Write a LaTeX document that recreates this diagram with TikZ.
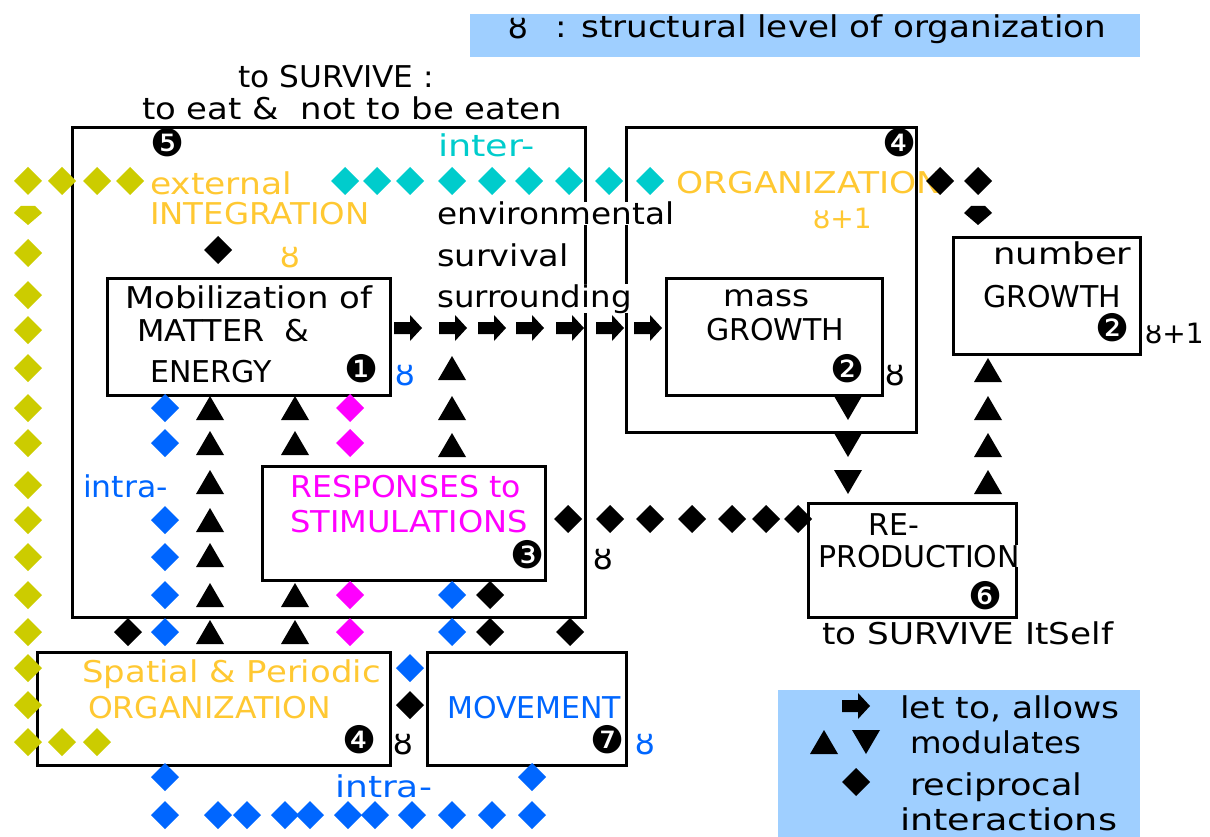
\documentclass[tikz,border=0pt]{standalone}
\usepackage{fontspec}
\setmainfont{DejaVu Sans}
\usetikzlibrary{fit}
\definecolor{dyellow}{HTML}{CCCC00}
\definecolor{orng}{HTML}{FFC832}
\definecolor{dcyan}{HTML}{00CCCC}
\definecolor{dblue}{HTML}{0066FF}
\definecolor{dmag}{HTML}{FF00FF}
\definecolor{legblue}{HTML}{9FCFFF}
\newcommand\xs[2]{\scalebox{#1}[1]{#2}}
\begin{document}
\begin{tikzpicture}[x=1pt, y=-1pt,
    box/.style={draw, line width=3pt, inner sep=0pt},
    txt/.style={font=\fontsize{30}{36}\selectfont, inner sep=0pt, anchor=base west},
    num/.style={font=\fontsize{38}{40}\selectfont, inner sep=0pt},
    lvl/.style={font=\fontsize{32}{36}\selectfont, inner sep=0pt},
    pics/dia/.style={code={\fill[#1] (-14,0) -- (0,-14) -- (14,0) -- (0,14) -- cycle;}},
    pics/dia/.default=black,
    pics/flatdia/.style={code={\fill[#1] (-14,0) -- (-7,-7) -- (7,-7) -- (14,0) -- (0,12) -- cycle;}},
    pics/flatdia/.default=black,
    pics/up/.style={code={\fill (-14,12) -- (14,12) -- (0,-12) -- cycle;}},
    pics/down/.style={code={\fill (-14,-12) -- (14,-12) -- (0,12) -- cycle;}},
    pics/rarr/.style={code={\fill (-14,-6) -- (2,-6) -- (2,-13) -- (14,0) -- (2,13) -- (2,6) -- (-14,6) -- cycle;}}]
\useasboundingbox (0,0) rectangle (1210,837);

% legends
\node[fill=legblue, inner sep=0pt, fit={(470,14) (1140,57)}] (levbox) {};
\node[lvl] (levsym) at (518,29) {ȣ};
\node[txt] (levtxt) at (555,38) {\xs{1.14}{: structural level of organization}};
\node[fill=legblue, inner sep=0pt, fit={(778,690) (1140,837)}] (legbox) {};

% boxes
\node[box, fit={(72,128) (585,617)}] (integ) {};
\node[box, fit={(626,128) (916,432)}] (orgn) {};
\node[box, fit={(107,278) (390,395)}] (mobil) {};
\node[box, fit={(666,278) (882,395)}] (mass) {};
\node[box, fit={(953,238) (1140,354)}] (number) {};
\node[box, fit={(262,466) (545,580)}] (resp) {};
\node[box, fit={(808,503) (1016,617)}] (repro) {};
\node[box, fit={(37,652) (390,765)}] (spatial) {};
\node[box, fit={(427,652) (626,765)}] (move) {};

% texts
\node[txt] (surv) at (238,88) {\xs{1.04}{to SURVIVE :}};
\node[txt] (eat) at (142,120) {\xs{1.13}{to eat \&\ \ not to be eaten}};
\node[txt, orng] (ext) at (150,195) {\xs{1.15}{external}};
\node[txt, orng] (integtxt) at (150,225) {\xs{1.08}{INTEGRATION}};
\node[txt, dcyan] (inter) at (438,157) {\xs{1.22}{inter-}};
\node[txt, fill=white, inner xsep=3pt] (env) at (434,225) {\xs{1.09}{environmental}};
\node[txt] (survival) at (437,266) {\xs{1.12}{survival}};
\node[txt, fill=white, inner xsep=3pt] (surr) at (434,307) {\xs{1.08}{surrounding}};
\node[txt] (mob1) at (125,308) {\xs{1.13}{Mobilization of}};
\node[txt] (mob2) at (137,341) {\xs{1.06}{MATTER\ \ \&}};
\node[txt] (mob3) at (150,382) {ENERGY};
\node[txt] (mass1) at (723,306) {\xs{1.09}{mass}};
\node[txt] (mass2) at (706,340) {GROWTH};
\node[txt, orng] (orgtxt) at (676,194) {\xs{1.15}{ORGANIZATION}};
\node[txt] (num1) at (993,265) {\xs{1.18}{number}};
\node[txt] (num2) at (983,307) {GROWTH};
\node[txt, dblue] (intra1) at (83,497) {\xs{1.05}{intra-}};
\node[txt, dmag] (resp1) at (290,497) {\xs{1.05}{RESPONSES to}};
\node[txt, dmag] (resp2) at (290,532) {\xs{1.07}{STIMULATIONS}};
\node[txt] (rep1) at (868,535) {RE-};
\node[txt, fill=white, inner xsep=2pt] (rep2) at (816,567) {PRODUCTION};
\node[txt] (itself) at (822,644) {\xs{1.14}{to SURVIVE ItSelf}};
\node[txt, orng] (spat1) at (82,682) {\xs{1.13}{Spatial \& Periodic}};
\node[txt, orng] (spat2) at (88,718) {\xs{1.05}{ORGANIZATION}};
\node[txt, dblue] (movtxt) at (447,718) {MOVEMENT};
\node[txt, dblue] (intra2) at (335,797) {\xs{1.2}{intra-}};
\node[txt] (leg1) at (900,718) {\xs{1.15}{let to, allows}};
\node[txt] (leg2) at (910,753) {\xs{1.08}{modulates}};
\node[txt] (leg3) at (910,795) {\xs{1.17}{reciprocal}};
\node[txt] (leg4) at (900,830) {\xs{1.22}{interactions}};

% numbers and levels
\node[num] (n5) at (168,143) {❺};
\node[num] (n1) at (362,369) {❶};
\node[num] (n4) at (900,143) {❹};
\node[num] (n2a) at (848,369) {❷};
\node[num] (n2b) at (1113,328) {❷};
\node[num] (n3) at (528,555) {❸};
\node[num] (n6) at (986,596) {❻};
\node[num] (n4b) at (360,740) {❹};
\node[num] (n7) at (608,740) {❼};
\node[lvl, orng] (lv1) at (290,258) {ȣ};
\node[lvl, dblue] (lv2) at (405,376) {ȣ};
\node[lvl] (lv3) at (895,376) {ȣ};
\node[lvl] (lv4) at (603,560) {ȣ};
\node[lvl] (lv5) at (403,745) {ȣ};
\node[lvl, dblue] (lv6) at (645,745) {ȣ};
\node[lvl, orng, anchor=west, font=\fontsize{28}{30}\selectfont] (lv7) at (813,218) {ȣ+1};
\node[lvl, anchor=west, font=\fontsize{28}{30}\selectfont] (lv8) at (1145,333) {ȣ+1};

% yellow chain
\foreach \x in {28,62,97,130} \pic at (\x,181) {dia=dyellow};
\pic at (28,213) {flatdia=dyellow};
\foreach \y in {253,295,330,368,408,443,485,520,557,595,632,668,705,742}
  \pic at (28,\y) {dia=dyellow};
\foreach \x in {62,97} \pic at (\x,742) {dia=dyellow};

% cyan chain
\foreach \x in {345,377,410,452,492,529,569,609,650} \pic at (\x,181) {dia=dcyan};

% black diamonds
\foreach \x/\y in {218/250,940/181,978/181,490/595,490/632,570/632,128/632,410/705,856/782}
  \pic at (\x,\y) {dia};
\pic at (978,213) {flatdia};
\foreach \x in {568,610,650,692,732,766,798} \pic at (\x,519) {dia};

% blue diamonds
\foreach \y in {408,443,520,557,595,632} \pic at (165,\y) {dia=dblue};
\foreach \x/\y in {452/595,452/632,410/668,165/777,532/777} \pic at (\x,\y) {dia=dblue};
\foreach \x in {165,218,247,285,310,348,375,412,452,492,532} \pic at (\x,815) {dia=dblue};

% magenta diamonds
\foreach \y in {408,443,595,632} \pic at (350,\y) {dia=dmag};

% triangles
\foreach \y in {368,408,445} \pic at (452,\y) {up};
\foreach \y in {408,443,482,520,555,595,632} \pic at (210,\y) {up};
\foreach \y in {408,443,595,632} \pic at (295,\y) {up};
\foreach \y in {370,408,445,482} \pic at (988,\y) {up};
\foreach \y in {408,445,482} \pic at (848,\y) {down};
\pic at (824,742) {up};
\pic at (866,742) {down};

% arrows
\foreach \x in {408,453,492,530,570,610,648} \pic at (\x,328) {rarr};
\pic at (856,706) {rarr};
\end{tikzpicture}
\end{document}
